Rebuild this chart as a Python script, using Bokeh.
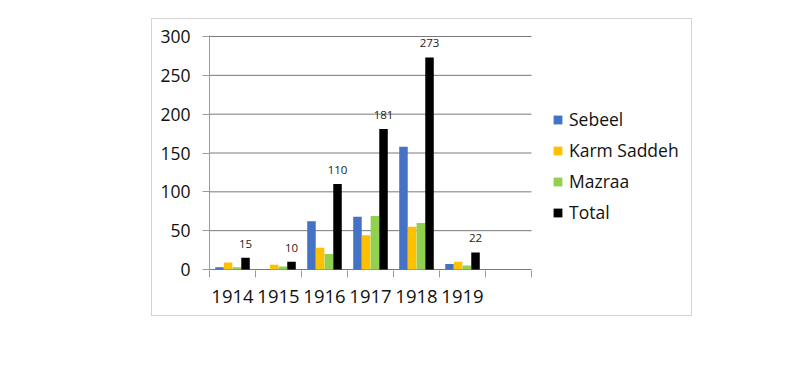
from bokeh.plotting import figure
from bokeh.models import (Range1d, FixedTicker, Legend, LegendItem, ColumnDataSource,
                          LabelSet)
from bokeh.core.properties import value
from bokeh.embed import file_html
from bokeh.resources import INLINE

years = ["1914", "1915", "1916", "1917", "1918", "1919"]
sebeel = [3, 0, 62, 68, 158, 7]
karm_saddeh = [9, 6, 28, 44, 55, 10]
mazraa = [3, 4, 20, 69, 60, 5]
total = [15, 10, 110, 181, 273, 22]
n_slots = 7  # six years plus one empty slot
y_ticks = [0, 50, 100, 150, 200, 250, 300]

series_names = ["Sebeel", "Karm Saddeh", "Mazraa", "Total"]
series_vals = [sebeel, karm_saddeh, mazraa, total]
colors = ["#4472C4", "#FFC000", "#92D050", "#000000"]
offsets = [-0.283, -0.095, 0.095, 0.283]
bar_w = 0.185

FONT = "Open Sans"
ypad = 300 / 233.0  # one pixel of padding in data units

p = figure(frame_width=482, frame_height=235, output_backend="svg", toolbar_location=None,
           x_range=Range1d(0, n_slots * 482 / 322.0), y_range=Range1d(-ypad, 300 + ypad),
           min_border_left=57, min_border_right=0, min_border_top=16, min_border_bottom=45)
p.margin = (18, 0, 0, 151)
p.styles = {"border": "1px solid #d4d4d4"}
p.outline_line_color = None
p.background_fill_color = "white"
p.border_fill_color = "white"

# horizontal gridlines (only across the category slots)
p.segment(x0=[0] * len(y_ticks), x1=[n_slots] * len(y_ticks), y0=y_ticks, y1=y_ticks,
          line_color="#7a7a7a", line_width=1)

centers = [i + 0.5 for i in range(len(years))]
items = []
for name, vals, col, off in zip(series_names, series_vals, colors, offsets):
    src = ColumnDataSource(dict(x=[c + off for c in centers], top=vals))
    r = p.vbar(x="x", top="top", width=bar_w, source=src, fill_color=col, line_color=None)
    items.append(LegendItem(label=name, renderers=[r]))

lab_src = ColumnDataSource(dict(x=[c + offsets[3] for c in centers], y=total,
                                txt=[str(v) for v in total]))
labels = LabelSet(x="x", y="y", text="txt", source=lab_src, text_align="center",
                  text_baseline="bottom", y_offset=10, text_font=value(FONT),
                  text_font_size="11.5px", text_color="#222222")
p.add_layout(labels)

# y axis
ya = p.yaxis[0]
ya.ticker = FixedTicker(ticks=y_ticks)
ya.major_label_text_font = FONT
ya.major_label_text_font_size = "17.5px"
ya.major_label_text_color = "#111111"
ya.major_tick_out = 7
ya.major_tick_in = 0
ya.minor_tick_out = 0
ya.minor_tick_in = 0
ya.axis_line_color = "#9a9a9a"
ya.major_tick_line_color = "#9a9a9a"
ya.major_label_standoff = 12

# x axis
xa = p.xaxis[0]
xa.ticker = FixedTicker(ticks=centers, minor_ticks=list(range(n_slots + 1)))
xa.major_label_overrides = {c: y for c, y in zip(centers, years)}
xa.major_label_text_font = FONT
xa.major_label_text_font_size = "18.5px"
xa.major_label_text_color = "#111111"
xa.major_tick_out = 0
xa.major_tick_in = 0
xa.minor_tick_out = 7
xa.minor_tick_in = 0
xa.minor_tick_line_color = "#9a9a9a"
xa.axis_line_color = None
xa.major_label_standoff = 12

p.xgrid.grid_line_color = None
p.ygrid.grid_line_color = None

legend = Legend(items=items, location=(343, 46), orientation="vertical",
                label_text_font=FONT, label_text_font_size="17.5px",
                label_text_color="#111111",
                glyph_width=11, glyph_height=11, label_standoff=6,
                spacing=7, padding=0, margin=0, border_line_color=None,
                background_fill_alpha=0)
p.add_layout(legend, "center")

open("out.html", "w").write(file_html(p, INLINE))
